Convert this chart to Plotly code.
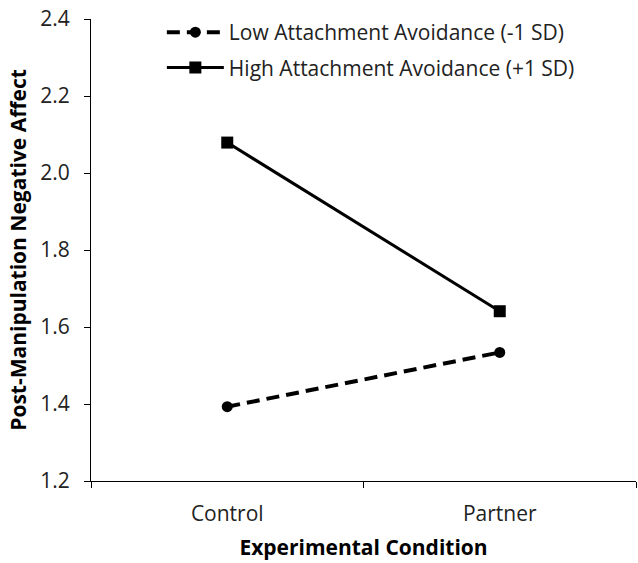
import plotly.graph_objects as go

categories = ["Control", "Partner"]
low_avoid = [1.393, 1.534]
high_avoid = [2.079, 1.641]
series_names = ["Low Attachment Avoidance (-1 SD)", "High Attachment Avoidance (+1 SD)"]
y_ticks = [1.2, 1.4, 1.6, 1.8, 2.0, 2.2, 2.4]
y_ticklabels = ["1.2", "1.4", "1.6", "1.8", "2.0", "2.2", "2.4"]

FONT = "Open Sans, Noto Sans, DejaVu Sans, sans-serif"

fig = go.Figure()
fig.add_trace(go.Scatter(
    x=categories, y=low_avoid, name=series_names[0], mode="lines+markers",
    line=dict(color="black", width=4, dash="13px,7px"),
    marker=dict(symbol="circle", size=11, color="black"),
    legendgroup="a",
))
fig.add_trace(go.Scatter(
    x=categories, y=high_avoid, name=series_names[1], mode="lines+markers",
    line=dict(color="black", width=3),
    marker=dict(symbol="square", size=12, color="black"),
    legendgroup="b",
))

fig.update_layout(
    width=638, height=563,
    margin=dict(l=91, r=2, t=19, b=82),
    paper_bgcolor="white", plot_bgcolor="white",
    font=dict(family=FONT, size=20, color="#222222"),
    showlegend=True,
    legend=dict(
        x=0.13, y=1.015, xanchor="left", yanchor="top",
        bgcolor="rgba(0,0,0,0)", font=dict(size=21, color="#222222"),
        traceorder="grouped", tracegroupgap=5, itemwidth=57,
    ),
    xaxis=dict(
        range=[-0.5, 1.5], showline=True, linecolor="black", linewidth=1,
        ticks="outside", tickson="boundaries", ticklen=6, tickcolor="black",
        ticklabelstandoff=14,
        showgrid=False, zeroline=False,
        tickfont=dict(size=21, color="#222222"),
        title=dict(text="<b>Experimental Condition</b>", font=dict(size=21, color="black"), standoff=14),
    ),
    yaxis=dict(
        range=[1.2, 2.4], tickvals=y_ticks, ticktext=y_ticklabels,
        showline=True, linecolor="black", linewidth=1,
        ticks="outside", ticklen=6, tickcolor="black",
        ticklabelstandoff=10,
        showgrid=False, zeroline=False,
        tickfont=dict(size=21, color="#222222"),
        title=dict(text="<b>Post-Manipulation Negative Affect</b>", font=dict(size=21, color="black"), standoff=7),
    ),
)

fig.write_html("out.html", config={"displayModeBar": False},
               post_script="document.body.style.margin='0';")
